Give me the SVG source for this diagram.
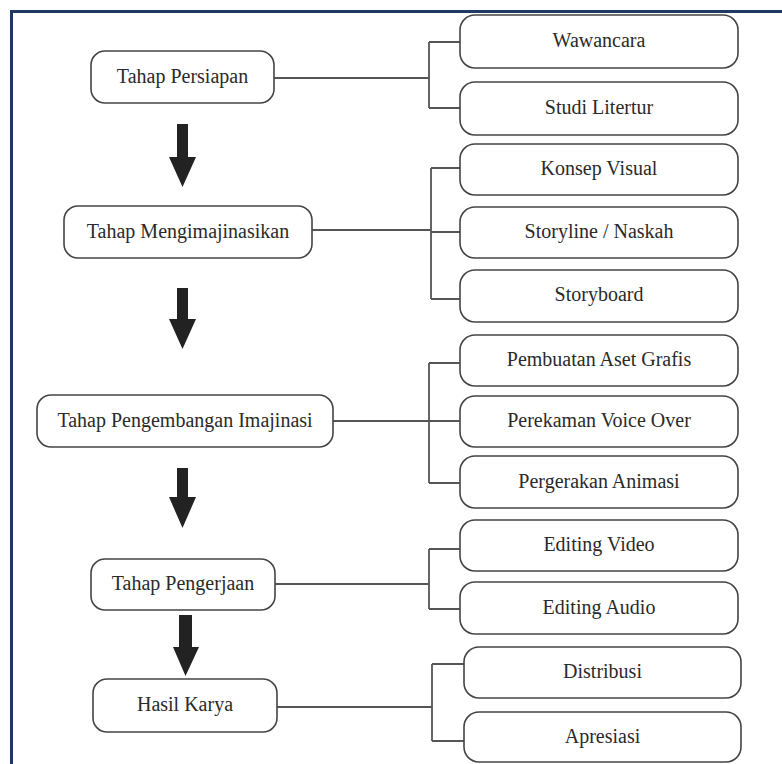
<svg xmlns="http://www.w3.org/2000/svg" width="782" height="764" viewBox="0 0 782 764">
<style>
.box{fill:#fff;stroke:#444;stroke-width:1.6}
.t{font-family:"Liberation Serif","Times New Roman",serif;font-size:20px;fill:#2a2a2a;text-anchor:middle}
.c{fill:none;stroke:#555;stroke-width:1.8}
.arr{fill:#222}
.frame{stroke:#1f3864;stroke-width:3;fill:none}
</style>
<rect width="782" height="764" fill="#fff"/>
<path class="frame" d="M11.5,764 V11.5 H782"/>

<g id="connectors">
<path class="c" d="M274,78 H429 M429,42 V108 M429,42 H460 M429,108 H460"/>
<path class="c" d="M312,230 H431 M431,168 V299 M431,168 H460 M431,232 H460 M431,299 H460"/>
<path class="c" d="M333,421 H429 M429,363 V483 M429,363 H460 M429,421 H460 M429,483 H460"/>
<path class="c" d="M275,584 H429 M429,549 V609 M429,549 H460 M429,609 H460"/>
<path class="c" d="M277,707 H432 M432,664 V741 M432,664 H464 M432,741 H464"/>
<polygon class="arr" points="177,124 188,124 188,157 196,157 182.5,187 169,157 177,157"/>
<polygon class="arr" points="177,288 188,288 188,319 196,319 182.5,349 169,319 177,319"/>
<polygon class="arr" points="177,468 188,468 188,497 196,497 182.5,528 169,497 177,497"/>
<polygon class="arr" points="179,615 192,615 192,647 199,647 185.5,676 173,647 179,647"/>
</g>

<g id="n1"><rect class="box" x="91" y="51" width="183" height="52" rx="14"/><text class="t" x="182.5" y="83">Tahap Persiapan</text></g>
<g id="n2"><rect class="box" x="64" y="206" width="248" height="52" rx="14"/><text class="t" x="188" y="238">Tahap Mengimajinasikan</text></g>
<g id="n3"><rect class="box" x="37" y="395" width="296" height="52" rx="14"/><text class="t" x="185" y="427">Tahap Pengembangan Imajinasi</text></g>
<g id="n4"><rect class="box" x="91" y="559" width="184" height="51" rx="14"/><text class="t" x="183" y="590">Tahap Pengerjaan</text></g>
<g id="n5"><rect class="box" x="93" y="679" width="184" height="53" rx="14"/><text class="t" x="185" y="711">Hasil Karya</text></g>

<g id="s1"><rect class="box" x="460" y="15" width="278" height="53" rx="15"/><text class="t" x="599" y="47">Wawancara</text></g>
<g id="s2"><rect class="box" x="460" y="82" width="278" height="53" rx="15"/><text class="t" x="599" y="114">Studi Litertur</text></g>
<g id="s3"><rect class="box" x="460" y="144" width="278" height="51" rx="15"/><text class="t" x="599" y="175">Konsep Visual</text></g>
<g id="s4"><rect class="box" x="460" y="207" width="278" height="51" rx="15"/><text class="t" x="599" y="238">Storyline / Naskah</text></g>
<g id="s5"><rect class="box" x="460" y="270" width="278" height="52" rx="15"/><text class="t" x="599" y="301">Storyboard</text></g>
<g id="s6"><rect class="box" x="460" y="335" width="278" height="51" rx="15"/><text class="t" x="599" y="366">Pembuatan Aset Grafis</text></g>
<g id="s7"><rect class="box" x="460" y="396" width="278" height="51" rx="15"/><text class="t" x="599" y="427">Perekaman Voice Over</text></g>
<g id="s8"><rect class="box" x="460" y="456" width="278" height="52" rx="15"/><text class="t" x="599" y="488">Pergerakan Animasi</text></g>
<g id="s9"><rect class="box" x="460" y="520" width="278" height="51" rx="15"/><text class="t" x="599" y="551">Editing Video</text></g>
<g id="s10"><rect class="box" x="460" y="582" width="278" height="52" rx="15"/><text class="t" x="599" y="614">Editing Audio</text></g>
<g id="s11"><rect class="box" x="464" y="647" width="277" height="51" rx="15"/><text class="t" x="602.5" y="678">Distribusi</text></g>
<g id="s12"><rect class="box" x="464" y="712" width="277" height="50" rx="15"/><text class="t" x="602.5" y="743">Apresiasi</text></g>
</svg>
